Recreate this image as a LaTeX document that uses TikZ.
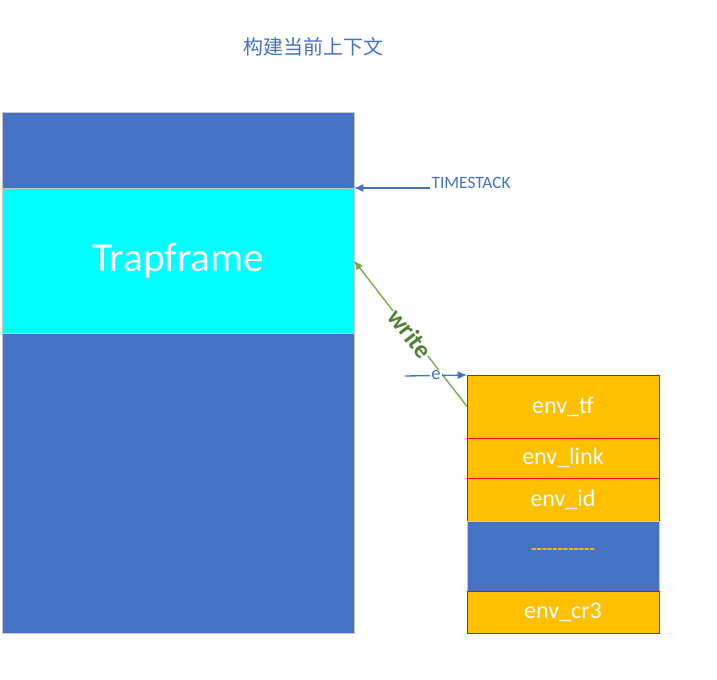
\documentclass[tikz,border=0pt]{standalone}
\usepackage{fontspec}
\setmainfont{Carlito}
\newfontfamily\cjkfont{Noto Sans CJK SC}
\usetikzlibrary{positioning,arrows.meta}
\definecolor{ppblue}{HTML}{4472C4}
\definecolor{ppcyan}{HTML}{00FFFF}
\definecolor{pporange}{HTML}{FFC000}
\definecolor{ppgreen}{HTML}{70AD47}
\definecolor{ppdkgreen}{HTML}{548235}
\tikzset{
  cell/.style={draw=black!22, fill=ppblue, text=white, outer sep=0pt, inner sep=0pt, line width=0.6pt},
  stackcell/.style={cell, minimum width=264pt},
  envcell/.style={cell, draw=red, fill=pporange, minimum width=144pt, font=\fontsize{18}{21}\selectfont},
  tip/.style={-{Latex[length=7pt,width=6pt]}, line width=1pt},
}
\begin{document}
\begin{tikzpicture}[x=0.75pt,y=-0.75pt]
    \useasboundingbox (0,0) rectangle (717,680);
    \node[text=ppblue, font=\cjkfont\fontsize{15}{18}\selectfont] (title) at (313,47) {构建当前上下文};
    % kernel stack
    \node[stackcell, minimum height=57pt, anchor=north west] (top) at (2,112) {};
    \node[stackcell, fill=ppcyan, minimum height=108.75pt, below=0pt of top, font=\fontsize{31}{35}\selectfont] (trap) {Trapframe};
    \node[stackcell, minimum height=225pt, below=0pt of trap] (rest) {};
    % env struct
    \node[envcell, minimum height=47.25pt, anchor=north west] (tf) at (467,375) {env\_tf};
    \node[envcell, minimum height=30pt, below=0pt of tf] (link) {env\_link};
    \node[envcell, minimum height=32.25pt, below=0pt of link] (id) {env\_id};
    \node[cell, minimum width=144pt, minimum height=52.5pt, below=0pt of id] (more) {};
    \node[text=pporange, font=\bfseries\fontsize{13}{15}\selectfont] (dots) at (563,552) {\foreach \i in {1,...,12}{-}};
    \node[envcell, minimum height=31.5pt, below=0pt of more] (cr3) {env\_cr3};
    % arrows
    \node[text=ppblue, anchor=west, inner sep=1pt, font=\fontsize{13}{15}\selectfont] (ts) at (430,183) {TIMESTACK};
    \draw[tip, ppblue] (ts.west |- top.south east) -- (top.south east);
    \draw[tip, ppgreen] (tf.west) -- (trap.east)
        node[midway, sloped, fill=white, inner sep=0.5pt, text=ppdkgreen, font=\bfseries\fontsize{19}{21}\selectfont] (wr) {write};
    \coordinate (estart) at (405,376);
    \draw[tip, ppblue] (estart) -- (tf.north west -| tf.west)
        node[midway, fill=white, inner sep=1pt, text=ppblue, font=\fontsize{14}{16}\selectfont] (e) {e};
\end{tikzpicture}
\end{document}
